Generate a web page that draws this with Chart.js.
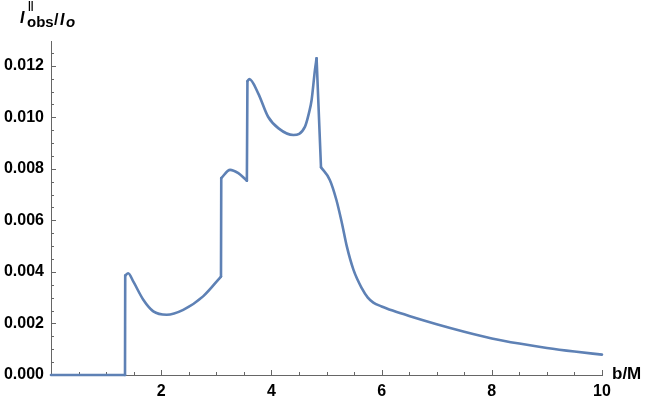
<!DOCTYPE html>
<html>
<head>
<meta charset="utf-8">
<script src="https://cdn.jsdelivr.net/npm/chart.js@4"></script>
<style>
  html, body { margin: 0; padding: 0; background: #fff; }
  #wrap { width: 648px; height: 402px; position: relative; }
</style>
</head>
<body>
<div id="wrap"><canvas id="myChart"></canvas></div>
<script>
var bValues = [0, 1.343, 1.347, 1.40, 1.5, 1.675, 1.857, 2.1, 2.4, 2.76, 3.085,
  3.09, 3.25, 3.4, 3.555,
  3.565, 3.6, 3.76, 3.94, 4.13, 4.40, 4.61, 4.68, 4.73, 4.79, 4.82,
  4.90, 5.06, 5.18, 5.28, 5.37, 5.49, 5.64, 5.75, 5.85,
  6.0, 6.2, 6.5, 7, 7.5, 8, 8.5, 9, 9.5, 10];
var intensity = [0, 0, 0.00386, 0.00395, 0.0036, 0.00292, 0.00247, 0.00234, 0.00253, 0.00305, 0.00382,
  0.00764, 0.00796, 0.00783, 0.00754,
  0.01140, 0.01148, 0.01093, 0.01002, 0.00957, 0.00931, 0.00964, 0.01015, 0.01067, 0.01183, 0.01229,
  0.00806, 0.00757, 0.00679, 0.00589, 0.00498, 0.00408, 0.00337, 0.00300, 0.00281,
  0.00266, 0.00250, 0.00229, 0.00197, 0.00168, 0.00142, 0.00122, 0.00105, 0.00091, 0.00079];
// indices where the curve has a corner (jumps and the knee after the last peak)
var corners = [1, 2, 10, 11, 14, 15, 25, 26];

var xTicks = [2, 4, 6, 8, 10];
var yTicks = [0, 0.002, 0.004, 0.006, 0.008, 0.010, 0.012];

var lineColor = '#5e81b5';
var axisColor = '#666666';
var fontFam = '"Liberation Sans", Arial, sans-serif';

// one dataset per smooth piece, so the jumps stay straight
var datasets = [];
var cuts = [0].concat(corners, [bValues.length - 1]);
for (var c = 0; c < cuts.length - 1; c++) {
  var pts = [];
  for (var i = cuts[c]; i <= cuts[c + 1]; i++) {
    pts.push({x: bValues[i], y: intensity[i]});
  }
  datasets.push({
    data: pts,
    showLine: true,
    borderColor: lineColor,
    borderWidth: 2.6,
    borderCapStyle: 'round',
    borderJoinStyle: 'round',
    pointRadius: 0,
    fill: false,
    cubicInterpolationMode: 'monotone',
    clip: 6
  });
}

// Mathematica style ticks: pointing into the plot, minor ones shorter
var axisExtras = {
  id: 'axisExtras',
  beforeDatasetsDraw: function(chart) {
    var ctx = chart.ctx, xs = chart.scales.x, ys = chart.scales.y;
    var bottom = ys.getPixelForValue(0), left = xs.getPixelForValue(0);
    ctx.save();
    ctx.strokeStyle = axisColor;
    ctx.lineWidth = 1;
    ctx.beginPath();
    for (var k = 1; k <= 20; k++) {
      var px = Math.round(xs.getPixelForValue(k * 0.5)) + 0.5;
      var len = (k % 4 == 0) ? 5 : 3;
      ctx.moveTo(px, bottom);
      ctx.lineTo(px, bottom - len);
    }
    for (var j = 1; j <= 25; j++) {
      var py = Math.round(ys.getPixelForValue(j * 0.0005)) + 0.5;
      var ylen = (j % 4 == 0) ? 5 : 3;
      ctx.moveTo(left, py);
      ctx.lineTo(left + ylen, py);
    }
    ctx.stroke();
    ctx.restore();
  },
  afterDraw: function(chart) {
    var ctx = chart.ctx, xs = chart.scales.x, ys = chart.scales.y;
    ctx.save();
    ctx.fillStyle = '#000';
    ctx.textBaseline = 'alphabetic';
    ctx.textAlign = 'left';
    // y axis title  I^||_obs / I_o
    ctx.font = 'italic bold 16px ' + fontFam;
    ctx.fillText('I', 20, 23);
    ctx.font = 'bold 10px ' + fontFam;
    ctx.fillText('||', 28, 9);
    ctx.font = 'bold 15px ' + fontFam;
    ctx.fillText('obs', 27, 27);
    ctx.font = 'bold 16px ' + fontFam;
    ctx.fillText('/', 54, 25);
    ctx.font = 'italic bold 16px ' + fontFam;
    ctx.fillText('I', 60, 25);
    ctx.font = 'italic bold 15px ' + fontFam;
    ctx.fillText('o', 66, 27);
    // x axis title
    ctx.font = 'bold 17px ' + fontFam;
    ctx.fillText('b/M', xs.right + 10, ys.bottom + 4);
    ctx.restore();
  }
};

var config = {
  type: 'scatter',
  data: { datasets: datasets },
  options: {
    responsive: true,
    maintainAspectRatio: false,
    animation: false,
    layout: { padding: { left: 0, right: 46, top: 41, bottom: 0 } },
    plugins: { legend: { display: false }, tooltip: { enabled: false } },
    scales: {
      x: {
        type: 'linear',
        min: 0,
        max: 10,
        afterBuildTicks: function(s) { s.ticks = xTicks.map(function(v) { return {value: v}; }); },
        afterFit: function(s) { s.height = 27; },
        grid: { display: false, drawTicks: true, tickLength: 4 },
        border: { display: true, color: axisColor, width: 1 },
        ticks: {
          padding: 3,
          maxRotation: 0,
          color: '#000',
          font: { family: fontFam, size: 16, weight: 'bold' },
          callback: function(v) { return String(v); }
        }
      },
      y: {
        type: 'linear',
        min: 0,
        max: 0.01296,
        afterBuildTicks: function(s) { s.ticks = yTicks.map(function(v) { return {value: v}; }); },
        afterFit: function(s) { s.width = 51; },
        grid: { display: false, drawTicks: true, tickLength: 4 },
        border: { display: true, color: axisColor, width: 1 },
        ticks: {
          padding: 3,
          color: '#000',
          font: { family: fontFam, size: 16, weight: 'bold' },
          callback: function(v) { return Number(v).toFixed(3); }
        }
      }
    }
  },
  plugins: [axisExtras]
};

var myChart = new Chart(document.getElementById('myChart'), config);
</script>
</body>
</html>
